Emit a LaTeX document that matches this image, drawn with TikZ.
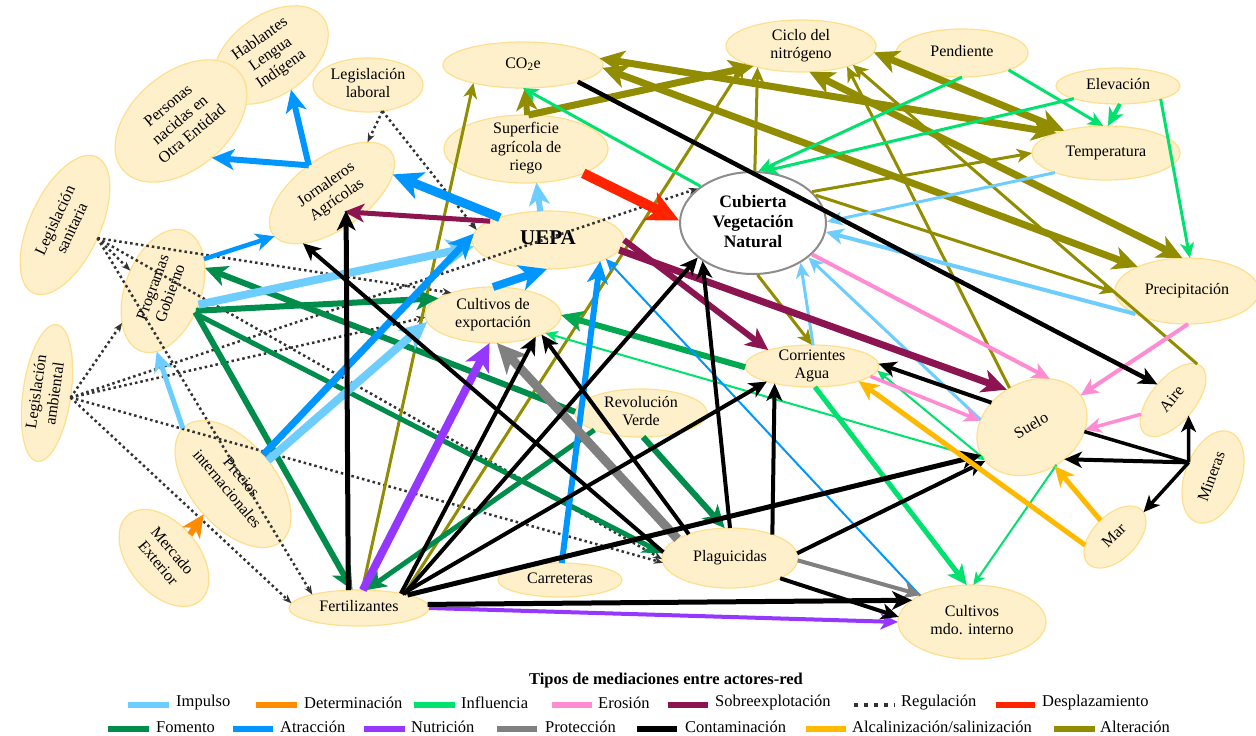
\documentclass[tikz,border=0pt]{standalone}
\usepackage{fontspec}
\setmainfont{Liberation Serif}
\usetikzlibrary{shapes.geometric,arrows.meta,calc}

\definecolor{nodefill}{RGB}{255,240,204}
\definecolor{nodeline}{RGB}{255,222,140}
\definecolor{cimp}{RGB}{110,205,255}
\definecolor{cdet}{RGB}{255,140,0}
\definecolor{cinf}{RGB}{0,225,110}
\definecolor{cero}{RGB}{255,140,210}
\definecolor{csob}{RGB}{140,20,80}
\definecolor{creg}{RGB}{50,50,50}
\definecolor{cdes}{RGB}{255,35,0}
\definecolor{cfom}{RGB}{0,140,75}
\definecolor{cfomb}{RGB}{0,168,80}
\definecolor{catr}{RGB}{0,150,255}
\definecolor{cnut}{RGB}{150,55,255}
\definecolor{cpro}{RGB}{128,128,128}
\definecolor{ccon}{RGB}{0,0,0}
\definecolor{calc}{RGB}{255,185,0}
\definecolor{calt}{RGB}{145,140,0}

% multi-line label whose box does not enlarge the ellipse
\newcommand\lns[1]{\smash{\raisebox{-0.25em}{\begin{tabular}{@{}c@{}}#1\end{tabular}}}}

\tikzset{
  actor/.style={ellipse, draw=nodeline, fill=nodefill, line width=1.2pt, inner sep=0pt, outer sep=0pt},
  arr/.style={-{Stealth[length=8pt 2.4, width=6.5pt 2.4, inset=2.5pt 0.6]}},
  biarr/.style={{Stealth[length=8pt 2.4, width=6.5pt 2.4, inset=2.5pt 0.6]}-{Stealth[length=8pt 2.4, width=6.5pt 2.4, inset=2.5pt 0.6]}},
  imp/.style={arr, draw=cimp},
  det/.style={arr, draw=cdet},
  inf/.style={arr, draw=cinf},
  ero/.style={arr, draw=cero},
  sob/.style={arr, draw=csob},
  des/.style={arr, draw=cdes},
  fom/.style={arr, draw=cfom},
  fomb/.style={arr, draw=cfomb},
  atr/.style={arr, draw=catr},
  nut/.style={arr, draw=cnut},
  pro/.style={arr, draw=cpro},
  con/.style={arr, draw=ccon},
  alc/.style={arr, draw=calc},
  alt/.style={arr, draw=calt},
  altb/.style={biarr, draw=calt},
  regu/.style={draw=creg, line width=2.5pt, dash pattern=on 2.5pt off 3pt, -{Stealth[length=9pt, width=7pt]}},
  swatch/.style={line width=6pt},
  legtext/.style={anchor=west, inner sep=0pt, font=\fontsize{16.5}{19}\selectfont},
}

\begin{document}
\begin{tikzpicture}[x=1pt, y=-1pt, font=\fontsize{16}{18.5}\selectfont]
\useasboundingbox (0,0) rectangle (1256,736);

% ---------- actors ----------
\node[actor, minimum width=128pt, minimum height=80pt, rotate=35] (hab) at (271,55) {\lns{Hablantes\\Lengua\\Indígena}};
\node[actor, minimum width=152pt, minimum height=96pt, rotate=40] (per) at (181,121) {\lns{Personas\\nacidas en\\Otra Entidad}};
\node[actor, minimum width=110pt, minimum height=54pt] (leglab) at (368,85) {\lns{Legislación\\laboral}};
\node[actor, minimum width=160pt, minimum height=46pt] (co2) at (523,65) {\lns{CO\textsubscript{2}e}};
\node[actor, minimum width=150pt, minimum height=52pt] (ciclo) at (801,46) {\lns{Ciclo del\\nitrógeno}};
\node[actor, minimum width=132pt, minimum height=48pt] (pend) at (962,53) {\lns{Pendiente}};
\node[actor, minimum width=124pt, minimum height=36pt] (elev) at (1118,86) {\lns{Elevación}};
\node[actor, minimum width=148pt, minimum height=54pt] (temp) at (1106,153) {\lns{Temperatura}};
\node[actor, minimum width=164pt, minimum height=68pt] (sup) at (526,149) {\lns{Superficie\\agrícola de\\riego}};
\node[ellipse, draw={rgb,255:red,140;green,140;blue,140}, fill=white, line width=2pt, inner sep=0pt, minimum width=146pt, minimum height=102pt, font=\fontsize{17.5}{20}\selectfont\bfseries] (cub) at (753,223) {\lns{Cubierta\\Vegetación\\Natural}};
\node[actor, minimum width=152pt, minimum height=58pt, font=\fontsize{21}{24}\selectfont\bfseries] (uepa) at (548,240) {\lns{UEPA}};
\node[actor, minimum width=144pt, minimum height=72pt, rotate=35] (jor) at (332,193) {\lns{Jornaleros\\Agrícolas}};
\node[actor, minimum width=150pt, minimum height=70pt, rotate=65] (legsan) at (65,225) {\lns{Legislación\\sanitaria}};
\node[actor, minimum width=128pt, minimum height=76pt, rotate=70] (prog) at (163,291) {\lns{Programas\\Gobierno}};
\node[actor, minimum width=138pt, minimum height=48pt, rotate=82] (legamb) at (47,393) {\lns{Legislación\\ambiental}};
\node[actor, minimum width=150pt, minimum height=84pt, rotate=-50] (precios) at (233,484) {\lns{Precios\\internacionales}};
\node[actor, minimum width=112pt, minimum height=70pt, rotate=-50] (merc) at (164,558) {\lns{Mercado\\Exterior}};
\node[actor, minimum width=140pt, minimum height=36pt] (fert) at (359,608) {\lns{Fertilizantes}};
\node[actor, minimum width=136pt, minimum height=56pt] (cexp) at (493,315) {\lns{Cultivos de\\exportación}};
\node[actor, minimum width=132pt, minimum height=48pt] (rev) at (641,413) {\lns{Revolución\\Verde}};
\node[actor, minimum width=134pt, minimum height=42pt] (corr) at (812,366) {\lns{Corrientes\\Agua}};
\node[actor, minimum width=124pt, minimum height=34pt] (carr) at (560,580) {\lns{Carreteras}};
\node[actor, minimum width=136pt, minimum height=60pt] (plag) at (730,558) {\lns{Plaguicidas}};
\node[actor, minimum width=148pt, minimum height=74pt] (cmdo) at (972,622) {\lns{Cultivos\\mdo. interno}};
\node[actor, minimum width=116pt, minimum height=90pt, rotate=30] (suelo) at (1032,427) {\lns{Suelo}};
\node[actor, minimum width=88pt, minimum height=44pt, rotate=50] (aire) at (1173,400) {\lns{Aire}};
\node[actor, minimum width=144pt, minimum height=66pt] (precip) at (1187,291) {\lns{Precipitación}};
\node[actor, minimum width=96pt, minimum height=56pt, rotate=70] (mine) at (1213,477) {\lns{Mineras}};
\node[actor, minimum width=76pt, minimum height=44pt, rotate=45] (mar) at (1115,537) {\lns{Mar}};

% ---------- Regulación ----------
\draw[regu] (leglab.299) -- (jor.20);
\draw[regu] (leglab.299) -- (uepa.172);
\draw[regu] (legsan.273) -- (prog.78);
\draw[regu] (legsan.273) -- (cexp.152);
\draw[regu] (legsan.273) -- (plag.181);
\draw[regu] (legsan.273) -- (fert.164);
\draw[regu] (legamb.267) -- (prog.148);
\draw[regu] (legamb.267) -- (cub.148);
\draw[regu] (legamb.267) -- (cexp.182);
\draw[regu] (legamb.267) -- (plag.184);
\draw[regu] (legamb.267) -- (fert.176);

% ---------- Alteración ----------
\draw[alt, line width=6pt] (sup.88) -- (co2.275);
\draw[alt, line width=7pt] (sup.86) -- (ciclo.203);
\draw[alt, line width=3pt] (fert.80) -- (co2.200);
\draw[alt, line width=3pt] (fert.17) -- (ciclo.197);
\draw[alt, line width=3pt] (cub.88) -- (ciclo.206);
\draw[alt, line width=3pt] (cub.28) -- (temp.180);
\draw[alt, line width=3pt] (cub.24) -- (precip.181);
\draw[alt, line width=3pt] (cub.275) -- (corr.90);
\draw[alt, line width=3pt] (suelo.90) -- (ciclo.336);
\draw[alt, line width=3pt] (aire.6) -- (ciclo.340);
\draw[altb, line width=7pt] (co2.5) -- (temp.158);
\draw[altb, line width=7pt] (co2.358) -- (precip.154);
\draw[altb, line width=7pt] (ciclo.355) -- (temp.152);
\draw[altb, line width=7pt] (ciclo.288) -- (precip.98);

% ---------- Influencia ----------
\draw[inf, line width=3pt] (pend.340) -- (temp.96);
\draw[inf, line width=4pt] (elev.276) -- (temp.86);
\draw[inf, line width=3pt] (elev.343) -- (precip.85);
\draw[inf, line width=3pt] (pend.270) -- (cub.84);
\draw[inf, line width=3pt] (elev.196) -- (cub.79);
\draw[inf, line width=3pt] (cub.145) -- (co2.270);
\draw[inf, line width=5pt] (corr.278) -- (cmdo.98);
\draw[inf, line width=2pt] (suelo.273) -- (cmdo.88);
\draw[inf, line width=2pt] (suelo.182) -- (corr.356);
\draw[inf, line width=2pt] (suelo.184) -- (cexp.341);

% ---------- Fomento ----------
\draw[fom, line width=6pt] (prog.257) -- (fert.110);
\draw[fom, line width=6pt] (prog.259) -- (cexp.163);
\draw[fom, line width=5pt] (prog.255) -- (plag.176);
\draw[fom, line width=6pt] (rev.179) -- (prog.319);
\draw[fom, line width=5pt] (rev.200) -- (fert.68);
\draw[fom, line width=6pt] (rev.275) -- (plag.100);
\draw[fomb, line width=6pt] (corr.181) -- (cexp.0);

% ---------- Impulso ----------
\draw[imp, line width=6pt] (uepa.105) -- (sup.287);
\draw[imp, line width=8pt] (prog.269) -- (uepa.185);
\draw[imp, line width=8pt] (precios.84) -- (cexp.186);
\draw[imp, line width=5pt] (precios.182) -- (prog.194);
\draw[imp, line width=3pt] (temp.201) -- (cub.1);
\draw[imp, line width=4pt] (precip.204) -- (cub.353);
\draw[imp, line width=3pt] (suelo.142) -- (cub.328);
\draw[imp, line width=3pt] (corr.87) -- (cub.320);

% ---------- Atracción ----------
\draw[atr, line width=6pt] (jor.95) -- (hab.265);
\draw[atr, line width=6pt] (jor.95) -- (per.270);
\draw[atr, line width=9pt] (uepa.155) -- (jor.342);
\draw[atr, line width=4.5pt] (prog.328) -- (jor.182);
\draw[atr, line width=7pt] (precios.94) -- (uepa.175);
\draw[atr, line width=8pt] (cexp.90) -- (uepa.268);
\draw[atr, line width=6pt] (carr.84) -- (uepa.338);
\draw[atr, line width=2pt] (cmdo.153) -- (uepa.342);

% ---------- Erosión ----------
\draw[ero, line width=4pt] (cub.332) -- (suelo.40);
\draw[ero, line width=4pt] (precip.272) -- (suelo.3);
\draw[ero, line width=3.5pt] (aire.154) -- (suelo.327);
\draw[ero, line width=3.5pt] (corr.350) -- (suelo.143);

% ---------- Sobreexplotación ----------
\draw[sob, line width=5pt] (uepa.162) -- ($(jor)!0.62!(jor.268)$);
\draw[sob, line width=6pt] (uepa.0) -- (corr.160);
\draw[sob, line width=7pt] (uepa.352) -- (suelo.94);

% ---------- Desplazamiento ----------
\draw[des, line width=10pt] (sup.337) -- (cub.178);

% ---------- Determinación ----------
\draw[det, line width=6pt] (merc.92) -- (precios.276);

% ---------- Nutrición ----------
\draw[nut, line width=8pt] (fert.78) -- (cexp.263);
\draw[nut, line width=4pt] (fert.0) -- (cmdo.180);

% ---------- Protección ----------
\draw[pro, line width=9pt] (plag.160) -- (cexp.278);
\draw[pro, line width=4pt] (plag.358) -- (cmdo.152);

% ---------- Contaminación ----------
\draw[con, line width=4.5pt] (co2.343) -- (aire.85);
\draw[con, line width=4pt] (suelo.119) -- (corr.2);
\draw[con, line width=4pt] (mine.79) -- (suelo.285);
\draw[con, line width=3.5pt] (mine.79) -- (aire.265);
\draw[con, line width=3.5pt] (mine.79) -- (mar.356);
\draw[line width=3.5pt] (mine.79) -- (suelo.325);
\draw[con, line width=5pt] (fert.121) -- ($(jor)!0.62!(jor.274)$);
\draw[con, line width=4pt] (plag.175) -- (jor.205);
\draw[con, line width=4pt] (fert.17) -- (cub.212);
\draw[con, line width=4pt] (fert.18) -- (corr.199);
\draw[con, line width=4pt] (fert.19) -- (cexp.333);
\draw[con, line width=5pt] (fert.15) -- (suelo.179);
\draw[con, line width=5pt] (fert.3) -- (cmdo.160);
\draw[con, line width=4pt] (plag.150) -- (cexp.338);
\draw[con, line width=4pt] (plag.29) -- (corr.205);
\draw[con, line width=4pt] (plag.90) -- (cub.217);
\draw[con, line width=4pt] (plag.4) -- (suelo.186);
\draw[con, line width=4pt] (plag.338) -- (cmdo.176);

% ---------- Alcalinización/salinización ----------
\draw[alc, line width=5pt] (mar.86) -- (suelo.270);
\draw[alc, line width=5pt] (mar.150) -- (corr.342);

% ---------- legend ----------
\node[font=\fontsize{16.5}{19}\selectfont\bfseries] (legtitle) at (666,681) {Tipos de mediaciones entre actores-red};
% first row
\draw[swatch, cimp] (128,705) -- (169,705);  \node[legtext] at (176,703) {Impulso};
\draw[swatch, cdet] (256,705) -- (297,705);  \node[legtext] at (304,703) {Determinación};
\draw[swatch, cinf] (414,705) -- (455,705);  \node[legtext] at (461,703) {Influencia};
\draw[swatch, cero] (552,705) -- (592,705);  \node[legtext] at (598,703) {Erosión};
\draw[swatch, csob] (668,705) -- (708,705);  \node[legtext] at (715,703) {Sobreexplotación};
\draw[creg, line width=4pt, dash pattern=on 4pt off 6pt] (854,705) -- (895,705); \node[legtext] at (901,703) {Regulación};
\draw[swatch, cdes] (996,705) -- (1035,705); \node[legtext] at (1042,703) {Desplazamiento};
% second row
\draw[swatch, cfom] (108,729) -- (149,729);  \node[legtext] at (156,727) {Fomento};
\draw[swatch, catr] (233,729) -- (273,729);  \node[legtext] at (280,727) {Atracción};
\draw[swatch, cnut] (364,729) -- (405,729);  \node[legtext] at (411,727) {Nutrición};
\draw[swatch, cpro] (497,729) -- (537,729);  \node[legtext] at (545,727) {Protección};
\draw[swatch, ccon] (637,729) -- (677,729);  \node[legtext] at (685,727) {Contaminación};
\draw[swatch, calc] (806,729) -- (846,729);  \node[legtext] at (852,727) {Alcalinización/salinización};
\draw[swatch, calt] (1054,729) -- (1095,729); \node[legtext] at (1100,727) {Alteración};
\end{tikzpicture}
\end{document}
